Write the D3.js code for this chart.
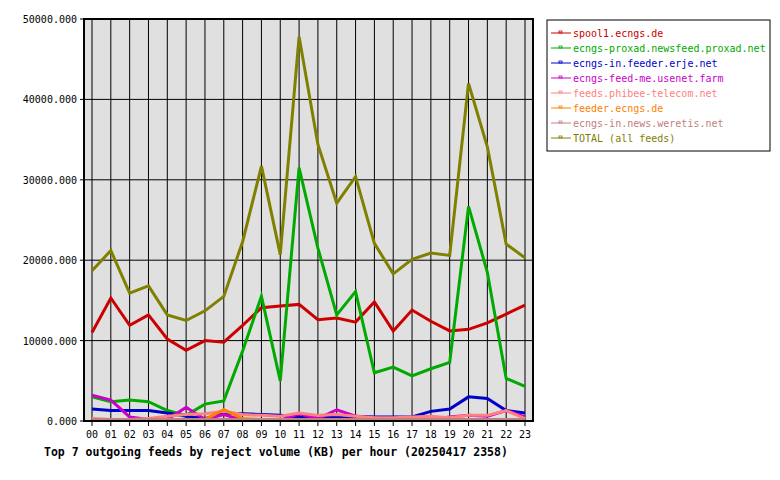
<!DOCTYPE html>
<html><head><meta charset="utf-8">
<script src="https://cdn.jsdelivr.net/npm/d3@7"></script>
<style>body{margin:0;background:#fff}text{font-family:"DejaVu Sans Mono",monospace}</style>
</head><body>
<svg id="chart" width="780" height="480"></svg>
<script>
var hours = ["00","01","02","03","04","05","06","07","08","09","10","11","12","13","14","15","16","17","18","19","20","21","22","23"];
var feedNames = ["spool1.ecngs.de","ecngs-proxad.newsfeed.proxad.net","ecngs-in.feeder.erje.net","ecngs-feed-me.usenet.farm","feeds.phibee-telecom.net","feeder.ecngs.de","ecngs-in.news.weretis.net","TOTAL (all feeds)"];
var feedColors = ["#cc0000","#00aa00","#0000cc","#cc00cc","#ff8080","#ff8000","#c08080","#808000"];
var spool1 = [11000,15300,11900,13200,10200,8800,10000,9800,11900,14100,14300,14500,12600,12800,12300,14800,11200,13800,12400,11200,11400,12200,13300,14400];
var proxad = [3000,2400,2600,2400,1300,700,2100,2500,8700,15500,5000,31500,21500,13200,16100,6000,6700,5600,6500,7300,26700,18500,5300,4300];
var erje = [1500,1300,1300,1300,1000,600,300,1000,900,800,700,500,400,500,600,500,500,500,1200,1500,3000,2800,1300,1000];
var usenetFarm = [3200,2600,500,200,200,1700,200,800,100,100,100,900,300,1400,600,400,200,100,200,500,700,600,1300,500];
var phibee = [300,200,200,300,600,800,900,1200,800,700,600,1000,700,800,600,400,400,500,600,400,700,700,1300,300];
var feederEcngs = [100,100,100,100,100,200,200,1400,300,200,100,200,100,100,100,100,100,100,100,100,100,100,100,100];
var weretis = [200,200,200,200,200,200,200,200,200,200,200,200,200,200,200,200,200,200,200,200,200,200,200,200];
var total = [18700,21200,15900,16800,13200,12500,13700,15500,22300,31700,20700,47800,34400,27100,30400,22100,18300,20100,20900,20600,42000,34100,22000,20300];
var yTicks = [0,10000,20000,30000,40000,50000];

var series = [spool1,proxad,erje,usenetFarm,phibee,feederEcngs,weretis,total];
var svg = d3.select("#chart");
var pLeft = 84, pRight = 533, pTop = 19, pBottom = 421;

var x = d3.scalePoint().domain(hours).range([92, 525]);
var y = d3.scaleLinear().domain([0, 50000]).range([pBottom, pTop]);

svg.append("rect").attr("x", pLeft).attr("y", pTop).attr("width", pRight - pLeft).attr("height", pBottom - pTop)
    .attr("fill", "#e0e0e0");

// grid
svg.append("g").selectAll("line").data(hours).enter().append("line")
    .attr("x1", function (d) { return x(d); }).attr("x2", function (d) { return x(d); })
    .attr("y1", pTop).attr("y2", pBottom + 5).attr("stroke", "#000");
svg.append("g").selectAll("line").data(yTicks).enter().append("line")
    .attr("x1", pLeft - 4).attr("x2", pRight).attr("y1", function (d) { return y(d); }).attr("y2", function (d) { return y(d); })
    .attr("stroke", "#000");

svg.append("g").selectAll("text").data(yTicks).enter().append("text")
    .attr("x", pLeft - 7).attr("y", function (d) { return y(d) + 4; }).attr("text-anchor", "end")
    .attr("font-size", 10).text(function (d) { return d.toFixed(3); });
svg.append("g").selectAll("text").data(hours).enter().append("text")
    .attr("x", function (d) { return x(d); }).attr("y", pBottom + 17).attr("text-anchor", "middle")
    .attr("font-size", 10).text(function (d) { return d; });

var line = d3.line().x(function (d, i) { return x(hours[i]); }).y(function (d) { return y(d); });
series.forEach(function (s, i) {
    svg.append("path").attr("d", line(s)).attr("fill", "none")
        .attr("stroke", feedColors[i]).attr("stroke-width", 3).attr("stroke-linejoin", "miter");
});

svg.append("rect").attr("x", pLeft).attr("y", pTop).attr("width", pRight - pLeft).attr("height", pBottom - pTop)
    .attr("fill", "none").attr("stroke", "#000").attr("stroke-width", 2);

svg.append("text").attr("x", 44).attr("y", 456).attr("font-size", 11.5).attr("font-weight", "bold")
    .text("Top 7 outgoing feeds by reject volume (KB) per hour (20250417 2358)");

// legend
var lg = svg.append("g");
lg.append("rect").attr("x", 547).attr("y", 20).attr("width", 223).attr("height", 131)
    .attr("fill", "#fff").attr("stroke", "#000").attr("stroke-width", 1);
feedNames.forEach(function (name, i) {
    var ly = 33 + i * 15;
    lg.append("line").attr("x1", 551).attr("x2", 571).attr("y1", ly).attr("y2", ly).attr("stroke", feedColors[i]);
    lg.append("rect").attr("x", 559).attr("y", ly - 2).attr("width", 3).attr("height", 2)
        .attr("fill", "none").attr("stroke", feedColors[i]).attr("stroke-width", 0.8);
    lg.append("text").attr("x", 573).attr("y", ly + 4).attr("font-size", 10).attr("fill", feedColors[i]).text(name);
});
</script>
</body></html>
